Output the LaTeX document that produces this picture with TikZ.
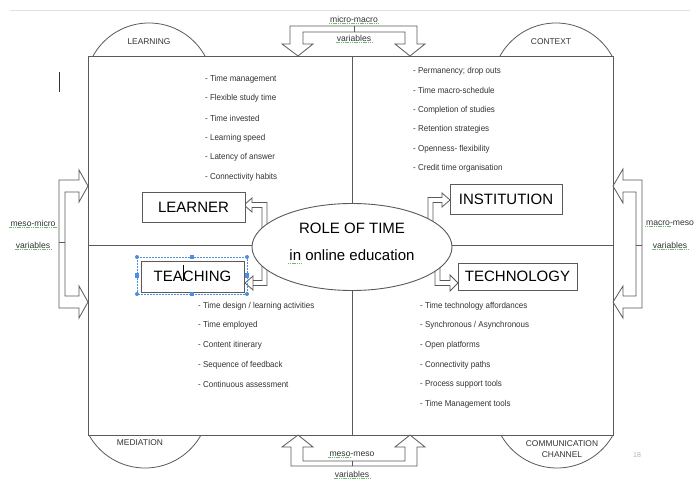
\documentclass[tikz,border=0pt]{standalone}
\usepackage{fontspec}
\setmainfont{Liberation Sans}
\newfontfamily\listfont{Liberation Sans}[FakeStretch=0.93]
\usetikzlibrary{shapes.geometric}
\usetikzlibrary{positioning}

\definecolor{line_gray}{HTML}{5A5A5A}
\definecolor{text_gray}{HTML}{333333}
\definecolor{select_blue}{HTML}{4A8FE0}
\definecolor{spell_green}{HTML}{6DBB6D}
\definecolor{edge_blue}{HTML}{DCE3EC}

\tikzstyle{frame_line} = [
    draw=line_gray,
    line width=0.8pt
]
\tikzstyle{hollow_arrow} = [
    draw=line_gray,
    fill=white,
    line width=0.8pt,
    line join=miter
]
\tikzstyle{actor_box} = [
    rectangle,
    draw=line_gray,
    fill=white,
    line width=0.9pt,
    font=\fontsize{15}{15}\selectfont,
    inner sep=0pt
]
\tikzstyle{hub} = [
    ellipse,
    draw=line_gray,
    fill=white,
    line width=0.9pt,
    minimum width=200pt,
    minimum height=87pt
]
\tikzstyle{hub_text} = [
    font=\fontsize{15}{15}\selectfont,
    inner sep=0pt
]
\tikzstyle{list_item} = [
    anchor=west,
    text=text_gray,
    font=\listfont\fontsize{8.6}{9}\selectfont,
    inner sep=0pt
]
\tikzstyle{var_label} = [
    text=text_gray,
    font=\fontsize{8.6}{9}\selectfont,
    inner sep=1pt
]
\tikzstyle{dome_label} = [
    text=text_gray,
    font=\fontsize{8.4}{11}\selectfont,
    align=center,
    inner sep=0pt
]
\tikzstyle{spell} = [
    spell_green,
    line width=0.6pt,
    dash pattern=on 1.2pt off 0.6pt
]

\begin{document}
\begin{tikzpicture}[x=1pt, y=-1pt]
\fill[white] (0,0) rectangle (697,481);
\useasboundingbox (0,0) rectangle (697,481);
\draw[edge_blue, line width=0.6pt] (10,10) -- (690,10);

% domes on the corners
\begin{scope}
    \clip (0,0) rectangle (697,56);
    \draw[frame_line] (149,87) circle (64pt);
    \draw[frame_line] (556,87) circle (64pt);
\end{scope}
\begin{scope}
    \clip (0,435) rectangle (697,481);
    \draw[frame_line] (145,404) circle (64pt);
    \draw[frame_line] (557,404) circle (64pt);
\end{scope}
\node [dome_label] (learning) at (149,42) {LEARNING};
\node [dome_label] (context) at (551,42) {CONTEXT};
\node [dome_label] (mediation) at (140,443) {MEDIATION};
\node [dome_label] (channel) at (562,449) {COMMUNICATION\\CHANNEL};

% quadrants
\draw[frame_line] (88,56) rectangle (613,435);
\draw[frame_line] (352,56) -- (352,435);
\draw[frame_line] (88,245) -- (613,245);

% U arrows round the frame
\draw[hollow_arrow] (298,56) -- (313,44) -- (303,44) -- (303,32) -- (405,32)
    -- (405,44) -- (395,44) -- (410,56) -- (425,44) -- (417,44) -- (417,26)
    -- (290,26) -- (290,44) -- (282,44) -- cycle;
\draw[frame_line] (354,26) -- (354,32);
\draw[hollow_arrow] (298,435) -- (313,447) -- (303,447) -- (303,461) -- (405,461)
    -- (405,447) -- (395,447) -- (410,435) -- (425,447) -- (417,447) -- (417,466)
    -- (291,466) -- (291,447) -- (282,447) -- cycle;
\draw[frame_line] (352,461) -- (352,466);
\draw[hollow_arrow] (88,186) -- (79,170) -- (79,180) -- (59,180) -- (59,308)
    -- (79,308) -- (79,318) -- (88,302) -- (79,286) -- (79,296) -- (65,296)
    -- (65,192) -- (79,192) -- (79,202) -- cycle;
\draw[frame_line] (59,242) -- (65,242);
\draw[hollow_arrow] (613,186) -- (623,169) -- (623,180) -- (642,180) -- (642,308)
    -- (623,308) -- (623,318) -- (613,302) -- (623,286) -- (623,296) -- (636,296)
    -- (636,192) -- (623,192) -- (623,203) -- cycle;
\draw[frame_line] (636,245) -- (642,245);

% elbow arrows out of the hub
\draw[hollow_arrow] (262,236) -- (262,207.5) -- (252,207.5) -- (252,212) -- (244,205)
    -- (252,198) -- (252,202.5) -- (267,202.5) -- (267,236) -- cycle;
\draw[hollow_arrow] (262,260) -- (262,280.5) -- (253,280.5) -- (253,290) -- (245,283)
    -- (253,276) -- (253,285.5) -- (267,285.5) -- (267,260) -- cycle;
\draw[hollow_arrow] (428,232) -- (428,197.5) -- (442,197.5) -- (442,193) -- (450,200)
    -- (442,207) -- (442,202.5) -- (433,202.5) -- (433,232) -- cycle;
\draw[hollow_arrow] (435,262) -- (435,285.5) -- (450,285.5) -- (450,291) -- (458,283)
    -- (450,275) -- (450,280.5) -- (440,280.5) -- (440,262) -- cycle;

% hub
\node [hub] (role) at (352,247) {};
\node [hub_text] (role_title) at (352,228) {ROLE OF TIME};
\node [hub_text] (role_sub) at (352,255) {in online education};
\draw[spell] (288,263) -- (301,263);

% actors
\node [actor_box, minimum width=103pt, minimum height=30pt] (learner) at (193.5,207) {LEARNER};
\node [actor_box, minimum width=103pt, minimum height=31pt] (teaching) at (192.5,276.5) {TEACHING};
\node [actor_box, minimum width=112pt, minimum height=30pt] (institution) at (506,199) {INSTITUTION};
\node [actor_box, minimum width=119pt, minimum height=27pt] (technology) at (517.5,276.5) {TECHNOLOGY};

% selection handles and cursors
\draw[select_blue, line width=0.5pt, densely dotted] (137,257) rectangle (247,294);
\foreach \hx/\hy in {137/257, 247/257, 137/294, 247/294}
    \fill[select_blue] (\hx,\hy) circle (2pt);
\foreach \hx/\hy in {192/257, 137/275.5, 247/275.5, 192/294}
    \fill[select_blue] (\hx-2.2,\hy-2.2) rectangle (\hx+2.2,\hy+2.2);
\draw[black, line width=0.7pt] (183,265) -- (183,281);
\draw[text_gray, line width=0.7pt] (59,72) -- (59,92);

% lists
\foreach \txt [count=\i from 0] in {Time management, Flexible study time,
    Time invested, Learning speed, Latency of answer, Connectivity habits}
    \node [list_item] at (205,{79+19.6*\i}) {- \txt};
\foreach \txt [count=\i from 0] in {Permanency; drop outs, Time macro-schedule,
    Completion of studies, Retention strategies, Openness- flexibility,
    Credit time organisation}
    \node [list_item] at (413,{71+19.5*\i}) {- \txt};
\foreach \txt [count=\i from 0] in {Time design / learning activities,
    Time employed, Content itinerary, Sequence of feedback, Continuous assessment}
    \node [list_item] at (198,{306+19.7*\i}) {- \txt};
\foreach \txt [count=\i from 0] in {Time technology affordances,
    Synchronous / Asynchronous, Open platforms, Connectivity paths,
    Process support tools, Time Management tools}
    \node [list_item] at (420,{306+19.6*\i}) {- \txt};

% level labels
\node [var_label] (micro_macro) at (354,19) {micro-macro};
\node [var_label] (var_top) at (354,38) {variables};
\node [var_label] (meso_micro) at (33,223) {meso-micro};
\node [var_label] (var_left) at (33,245) {variables};
\node [var_label] (macro_meso) at (670,223) {macro-meso};
\node [var_label] (var_right) at (670,245) {variables};
\node [var_label] (meso_meso) at (352,454) {meso-meso};
\node [var_label] (var_bottom) at (352,474) {variables};
\foreach \lbl in {micro_macro, var_top, meso_micro, var_left, var_right, var_bottom}
    \draw[spell] (\lbl.south west) -- (\lbl.south east);
\draw[spell] (macro_meso.south west) -- ++(27,0);
\draw[spell] (meso_meso.south west) -- ++(22,0);

\node [text=gray!60, font=\fontsize{7}{8}\selectfont] (page_no) at (637,455) {18};
\end{tikzpicture}
\end{document}
